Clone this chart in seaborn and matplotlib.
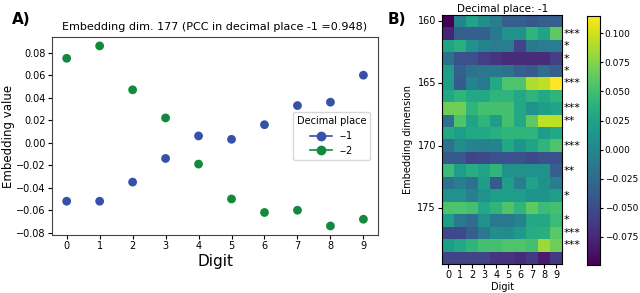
import numpy as np
import pandas as pd
import matplotlib
matplotlib.use("Agg")
import matplotlib.pyplot as plt
from matplotlib.lines import Line2D
import seaborn as sns

# panel A: embedding dim 177 per digit
digits = list(range(10))
dim177_place1 = [-0.052, -0.052, -0.035, -0.014, 0.006, 0.003, 0.016, 0.033, 0.036, 0.060]
dim177_place2 = [0.075, 0.086, 0.047, 0.022, -0.019, -0.050, -0.062, -0.060, -0.074, -0.068]
place_labels = ["--1", "--2"]

# panel B: decimal place -1, embedding dims 160-179
dims = list(range(160, 180))
heat_rows = [
    [-0.099, -0.003, 0.025, 0.006, -0.009, -0.035, -0.035, -0.041, -0.035, -0.035],
    [-0.078, -0.035, -0.035, -0.035, -0.013, 0.008, 0.008, 0.040, 0.025, 0.062],
    [0.025, 0.036, 0.010, -0.003, -0.009, -0.009, -0.056, -0.013, -0.009, -0.009],
    [-0.018, -0.046, -0.046, -0.060, -0.067, -0.073, -0.073, -0.073, -0.073, -0.060],
    [0.019, -0.035, -0.018, -0.013, -0.013, -0.018, -0.035, -0.039, -0.022, -0.035],
    [0.019, -0.039, -0.003, -0.013, 0.029, 0.055, 0.055, 0.089, 0.094, 0.115],
    [0.029, 0.040, 0.029, 0.029, 0.040, 0.040, 0.029, 0.040, 0.029, 0.040],
    [0.068, 0.068, 0.040, 0.051, 0.051, 0.051, 0.029, 0.008, 0.019, 0.025],
    [-0.018, 0.055, 0.025, 0.040, 0.019, 0.051, 0.029, 0.062, 0.094, 0.094],
    [0.029, 0.019, 0.029, 0.029, 0.036, 0.040, 0.040, 0.040, 0.019, 0.029],
    [-0.018, 0.004, -0.003, -0.007, -0.003, 0.029, 0.012, 0.025, 0.040, 0.055],
    [-0.039, -0.039, -0.056, -0.052, -0.046, -0.046, -0.046, -0.052, -0.046, -0.046],
    [0.047, 0.019, 0.034, 0.025, 0.040, 0.008, 0.008, 0.008, 0.008, -0.035],
    [-0.020, -0.009, -0.018, 0.019, -0.039, 0.019, -0.009, 0.025, 0.008, -0.009],
    [0.008, 0.008, -0.007, 0.008, 0.019, 0.019, 0.019, 0.012, 0.012, 0.019],
    [0.055, 0.055, 0.051, 0.029, 0.040, 0.055, 0.040, 0.062, 0.047, 0.051],
    [0.019, -0.013, -0.024, 0.008, -0.013, -0.013, -0.003, 0.029, 0.029, 0.047],
    dim177_place1,
    [0.019, 0.029, 0.040, 0.051, 0.051, 0.055, 0.055, 0.051, 0.083, 0.068],
    [-0.056, -0.056, -0.056, -0.056, -0.067, -0.067, -0.073, -0.063, -0.082, -0.063],
]
stars = ["", "***", "*", "*", "*", "***", "", "***", "**", "",
         "***", "", "**", "", "*", "", "*", "***", "***", ""]

colors = ["#3552a8", "#12893c"]

df = pd.DataFrame({
    "Digit": digits * 2,
    "value": dim177_place1 + dim177_place2,
    "Decimal place": [place_labels[0]] * 10 + [place_labels[1]] * 10,
})
heat = pd.DataFrame(heat_rows, index=dims, columns=digits)

fig = plt.figure(figsize=(6.4, 2.93), dpi=100)

# A)
ax1 = fig.add_axes([0.081, 0.198, 0.51, 0.676])
sns.scatterplot(data=df, x="Digit", y="value", hue="Decimal place",
                palette=colors, s=40, edgecolor="none", ax=ax1, legend=False)
ax1.set_xticks(digits)
ax1.set_yticks(np.arange(-0.08, 0.081, 0.02))
ax1.tick_params(labelsize=7, length=3, pad=1.5)
ax1.set_xlabel("Digit", fontsize=11, labelpad=2)
ax1.set_ylabel("Embedding value", fontsize=8.5, labelpad=1)
ax1.set_title("Embedding dim. 177 (PCC in decimal place -1 =0.948)", fontsize=8, pad=5)
handles = [Line2D([0], [0], color=c, marker="o", markersize=6, lw=1.2) for c in colors]
leg = ax1.legend(handles, place_labels, title="Decimal place", loc="center right",
                 bbox_to_anchor=(0.99, 0.5), fontsize=7, title_fontsize=7,
                 handlelength=2.2)
for s in ax1.spines.values():
    s.set_color("#444444")
fig.text(0.018, 0.932, "A)", fontsize=11, fontweight="bold", va="center")

# B)
ax2 = fig.add_axes([0.691, 0.099, 0.1875, 0.85])
cax = fig.add_axes([0.917, 0.096, 0.02, 0.85])
sns.heatmap(heat, cmap="viridis", ax=ax2, cbar_ax=cax, xticklabels=True, yticklabels=5)
ax2.set_yticklabels([str(d) for d in dims[::5]], rotation=0)
ax2.tick_params(labelsize=7, length=3, pad=1.5)
ax2.set_xticklabels(digits, rotation=0)
ax2.set_xlabel("Digit", fontsize=7, labelpad=1)
ax2.set_ylabel("Embedding dimension", fontsize=7, labelpad=3)
ax2.set_title("Decimal place: -1", fontsize=7.5, pad=2)
for s in ax2.spines.values():
    s.set_visible(True)
    s.set_color("black")
for i, st in enumerate(stars):
    if st:
        ax2.text(10.15, i + 0.5, st, ha="left", va="center", fontsize=8,
                 clip_on=False)
cax.set_yticks(np.arange(-0.075, 0.101, 0.025))
cax.tick_params(labelsize=6.5, length=2.5, pad=1)
for s in cax.spines.values():
    s.set_visible(True)
    s.set_color("black")
fig.text(0.606, 0.932, "B)", fontsize=11, fontweight="bold", va="center")

fig.savefig("out.png", dpi=100)
